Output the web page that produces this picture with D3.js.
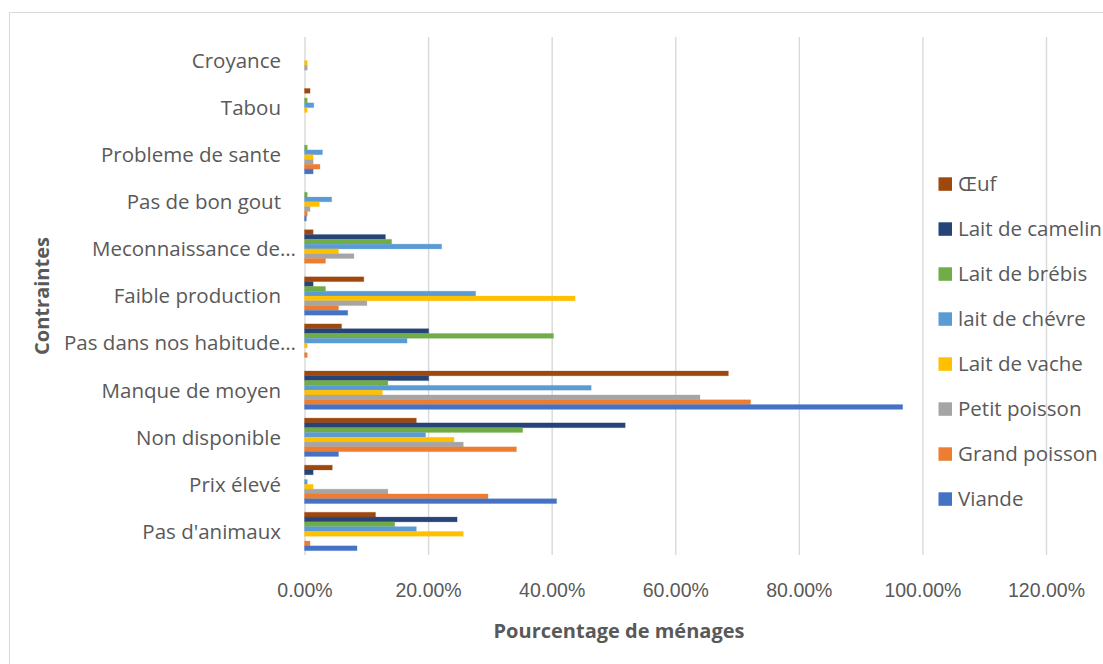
<!DOCTYPE html>
<html>
<head>
<meta charset="utf-8">
<script src="https://cdn.jsdelivr.net/npm/d3@7"></script>
<style>
  html, body { margin: 0; padding: 0; background: #fff; }
  svg { display: block; font-family: "Open Sans", "Noto Sans", sans-serif; }
</style>
</head>
<body>
<svg id="chart" width="1103" height="664"></svg>
<script>
// Constraints (top to bottom) and food types (top to bottom within each group)
const categories = ["Croyance", "Tabou", "Probleme de sante", "Pas de bon gout",
  "Meconnaissance de…", "Faible production", "Pas dans nos habitude…",
  "Manque de moyen", "Non disponible", "Prix élevé", "Pas d'animaux"];
const seriesNames = ["Œuf", "Lait de camelin", "Lait de brébis", "lait de chévre",
  "Lait de vache", "Petit poisson", "Grand poisson", "Viande"];
const seriesColors = ["#9E480E", "#264478", "#70AD47", "#5B9BD5",
  "#FFC000", "#A5A5A5", "#ED7D31", "#4472C4"];

// Percentage of households, one array per food type, in category order
const oeuf         = [0,   0.9, 0,   0,   1.4, 9.6,  6.0,  68.6, 18.1, 4.5, 11.5];
const laitCamelin  = [0,   0,   0,   0,   13.1, 1.4, 20.1, 20.1, 51.9, 1.4, 24.7];
const laitBrebis   = [0,   0.45,0.45,0.45,14.1, 3.4, 40.3, 13.5, 35.3, 0,   14.6];
const laitChevre   = [0,   1.5, 2.9, 4.4, 22.2, 27.7,16.6, 46.4, 19.6, 0.45,18.1];
const laitVache    = [0.45,0.45,1.4, 2.4, 5.5,  43.8,0.45, 12.6, 24.2, 1.4, 25.7];
const petitPoisson = [0.45,0,   1.4, 0.9, 8.0,  10.1,0,    64.0, 25.7, 13.5,0];
const grandPoisson = [0,   0,   2.5, 0.45,3.4,  5.5, 0.45, 72.2, 34.3, 29.7,0.9];
const viande       = [0,   0,   1.4, 0.3, 0,    7.0, 0,    96.8, 5.5,  40.8,8.5];
const seriesValues = [oeuf, laitCamelin, laitBrebis, laitChevre, laitVache,
  petitPoisson, grandPoisson, viande];

const xTicks = [0, 20, 40, 60, 80, 100, 120];

const svg = d3.select("#chart");
const textColor = "#595959";
const gridColor = "#d9d9d9";

// Chart border
svg.append("rect")
  .attr("x", 9.5).attr("y", 12.5)
  .attr("width", 1100).attr("height", 660)
  .attr("fill", "none").attr("stroke", gridColor).attr("stroke-width", 1);

const plot = { left: 304.5, right: 1046, top: 37, bottom: 555 };

const x = d3.scaleLinear().domain([0, 120]).range([plot.left, plot.right]);
const y = d3.scaleBand().domain(categories).range([plot.top, plot.bottom]).padding(0);
const ySub = d3.scaleBand().domain(seriesNames).range([0, y.bandwidth()])
  .paddingInner(0).paddingOuter(0.91);

// Vertical gridlines and percentage ticks
const xAxis = d3.axisBottom(x).tickValues(xTicks)
  .tickSize(-(plot.bottom - plot.top))
  .tickFormat(d => d3.format(".2f")(d) + "%");
const gx = svg.append("g")
  .attr("transform", `translate(0,${plot.bottom})`)
  .call(xAxis);
gx.select(".domain").remove();
gx.selectAll(".tick line").attr("stroke", gridColor).attr("stroke-width", 1.4);
gx.selectAll(".tick text")
  .attr("fill", textColor)
  .attr("font-size", 19.5)
  .attr("dy", "0.36em")
  .attr("y", 35);

// Bars
const rows = [];
seriesNames.forEach((s, si) => {
  categories.forEach((c, ci) => {
    rows.push({ cat: c, series: s, value: seriesValues[si][ci], color: seriesColors[si] });
  });
});
svg.append("g").selectAll("rect")
  .data(rows.filter(d => d.value > 0))
  .join("rect")
  .attr("x", x(0))
  .attr("y", d => y(d.cat) + ySub(d.series))
  .attr("width", d => x(d.value) - x(0))
  .attr("height", ySub.bandwidth())
  .attr("fill", d => d.color)
  .attr("stroke", d => d.color)
  .attr("stroke-opacity", 0.25)
  .attr("stroke-width", 1);

// Category labels; truncated ones run a little past the others
const yAxis = d3.axisLeft(y).tickSize(0).tickPadding(0);
const gy = svg.append("g").attr("transform", "translate(281,0.8)").call(yAxis);
gy.select(".domain").remove();
gy.selectAll(".tick text")
  .attr("fill", textColor)
  .attr("font-size", 20.5)
  .attr("font-family", "'Open Sans', sans-serif")
  .attr("x", d => d.endsWith("…") ? 15 : 0);

// Axis titles
svg.append("text")
  .attr("x", 619).attr("y", 638)
  .attr("text-anchor", "middle")
  .attr("font-size", 20).attr("font-weight", "bold")
  .attr("fill", textColor)
  .text("Pourcentage de ménages");

svg.append("text")
  .attr("transform", `translate(49,${(plot.top + plot.bottom) / 2}) rotate(-90)`)
  .attr("text-anchor", "middle")
  .attr("font-size", 20).attr("font-weight", "bold")
  .attr("fill", textColor)
  .text("Contraintes");

// Legend
const legend = svg.append("g");
seriesNames.forEach((s, i) => {
  const ly = 184 + i * 45;
  legend.append("rect")
    .attr("x", 938.5).attr("y", ly - 6.7)
    .attr("width", 13.5).attr("height", 13.5)
    .attr("fill", seriesColors[i]);
  legend.append("text")
    .attr("x", 958).attr("y", ly)
    .attr("dy", "0.36em")
    .attr("font-size", 20.5)
    .attr("fill", textColor)
    .text(s);
});
</script>
</body>
</html>
